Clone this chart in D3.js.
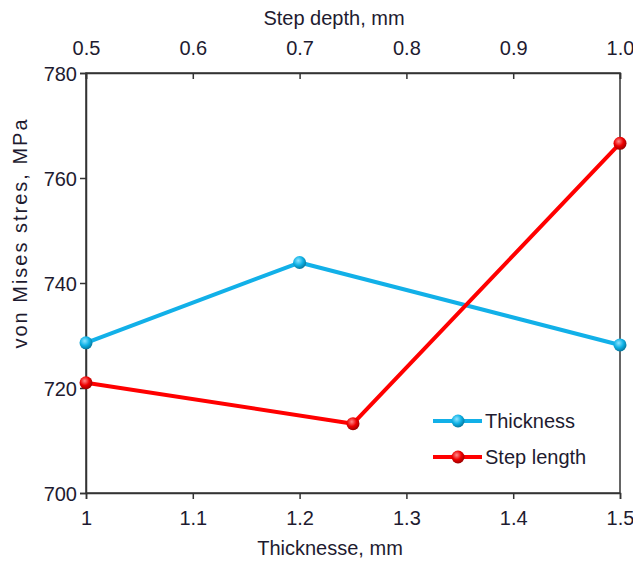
<!DOCTYPE html>
<html>
<head>
<meta charset="utf-8">
<script src="https://cdn.jsdelivr.net/npm/d3@7"></script>
<style>
  body { margin: 0; background: #fff; }
  text { font-family: "Liberation Sans", Arial, sans-serif; fill: #1e1b30; }
</style>
</head>
<body>
<div id="chart"></div>
<script>
// Data
const thicknessX = [1, 1.2, 1.5];          // bottom axis, mm
const thicknessY = [728.6, 743.9, 728.2];  // von Mises stress, MPa
const stepDepthX = [0.5, 0.75, 1.0];       // top axis, mm
const stepY = [721.0, 713.2, 766.6];
const bottomTicks = [1, 1.1, 1.2, 1.3, 1.4, 1.5];
const topTicks = [0.5, 0.6, 0.7, 0.8, 0.9, 1.0];
const yTicks = [700, 720, 740, 760, 780];
const seriesNames = ["Thickness", "Step length"];

const width = 633, height = 562;
const margin = { top: 73, right: 13, bottom: 69, left: 86 };
const iw = width - margin.left - margin.right;
const ih = height - margin.top - margin.bottom;
const fs = 20;

const svg = d3.select("#chart").append("svg")
    .attr("width", width)
    .attr("height", height);

// shaded ball markers
const defs = svg.append("defs");
function ballGradient(id, light, mid, dark) {
  const g = defs.append("radialGradient").attr("id", id)
      .attr("cx", "40%").attr("cy", "35%").attr("r", "65%");
  g.append("stop").attr("offset", "0%").attr("stop-color", light);
  g.append("stop").attr("offset", "55%").attr("stop-color", mid);
  g.append("stop").attr("offset", "100%").attr("stop-color", dark);
}
ballGradient("ballBlue", "#8fe4ff", "#0fb2e6", "#06789e");
ballGradient("ballRed", "#ff8a8a", "#ee0000", "#9c0000");

const g = svg.append("g").attr("transform", `translate(${margin.left},${margin.top})`);

const x = d3.scaleLinear().domain([1, 1.5]).range([0, iw]);
const x2 = d3.scaleLinear().domain([0.5, 1.0]).range([0, iw]);
const y = d3.scaleLinear().domain([700, 780]).range([ih, 0]);

// frame
g.append("rect").attr("width", iw).attr("height", ih)
    .attr("fill", "none").attr("stroke", "#333").attr("stroke-width", 1.5);

// axes
const bottomAxis = g.append("g").attr("transform", `translate(0,${ih})`)
    .call(d3.axisBottom(x).tickValues(bottomTicks).tickSize(6).tickPadding(12)
      .tickFormat(d => d3.format("")(d)));
const topAxis = g.append("g")
    .call(d3.axisTop(x2).tickValues(topTicks).tickSize(-6).tickPadding(18)
      .tickFormat(d3.format(".1f")));
const leftAxis = g.append("g")
    .call(d3.axisLeft(y).tickValues(yTicks).tickSize(6).tickPadding(3));

[bottomAxis, topAxis, leftAxis].forEach(a => {
  a.select(".domain").attr("stroke", "#333").attr("stroke-width", 1.5);
  a.selectAll(".tick line").attr("stroke", "#333").attr("stroke-width", 1.5);
  a.selectAll(".tick text").attr("font-size", fs).attr("fill", "#1e1b30")
    .attr("font-family", "Liberation Sans, Arial, sans-serif");
});
topAxis.selectAll(".tick text").attr("dy", "0");
leftAxis.selectAll(".tick text").attr("dy", "0.35em");

// axis titles
svg.append("text").attr("x", 334).attr("y", 25)
    .attr("text-anchor", "middle").attr("font-size", fs).text("Step depth, mm");
svg.append("text").attr("x", 330).attr("y", 555)
    .attr("text-anchor", "middle").attr("font-size", fs).text("Thicknesse, mm");
svg.append("text")
    .attr("transform", "translate(27,233) rotate(-90)")
    .attr("text-anchor", "middle").attr("font-size", fs)
    .attr("letter-spacing", 2).text("von Mises stres, MPa");

// series
const series = [
  { name: seriesNames[0], pts: thicknessX.map((v, i) => [x(v), y(thicknessY[i])]), color: "#12b0e8", ball: "url(#ballBlue)" },
  { name: seriesNames[1], pts: stepDepthX.map((v, i) => [x2(v), y(stepY[i])]), color: "#ff0000", ball: "url(#ballRed)" }
];
const line = d3.line();
series.forEach(s => {
  g.append("path").attr("d", line(s.pts)).attr("fill", "none")
      .attr("stroke", s.color).attr("stroke-width", 4).attr("stroke-linejoin", "round");
  g.selectAll(null).data(s.pts).enter().append("circle")
      .attr("cx", d => d[0]).attr("cy", d => d[1]).attr("r", 6.5)
      .attr("fill", s.ball);
});

// legend
const legend = svg.append("g").attr("transform", "translate(433,421)");
series.forEach((s, i) => {
  const row = legend.append("g").attr("transform", `translate(0,${i * 36})`);
  row.append("line").attr("x1", 0).attr("x2", 49).attr("stroke", s.color).attr("stroke-width", 4);
  row.append("circle").attr("cx", 25).attr("r", 6.5).attr("fill", s.ball);
  row.append("text").attr("x", 52).attr("dy", "0.35em").attr("font-size", fs).text(s.name);
});
</script>
</body>
</html>
